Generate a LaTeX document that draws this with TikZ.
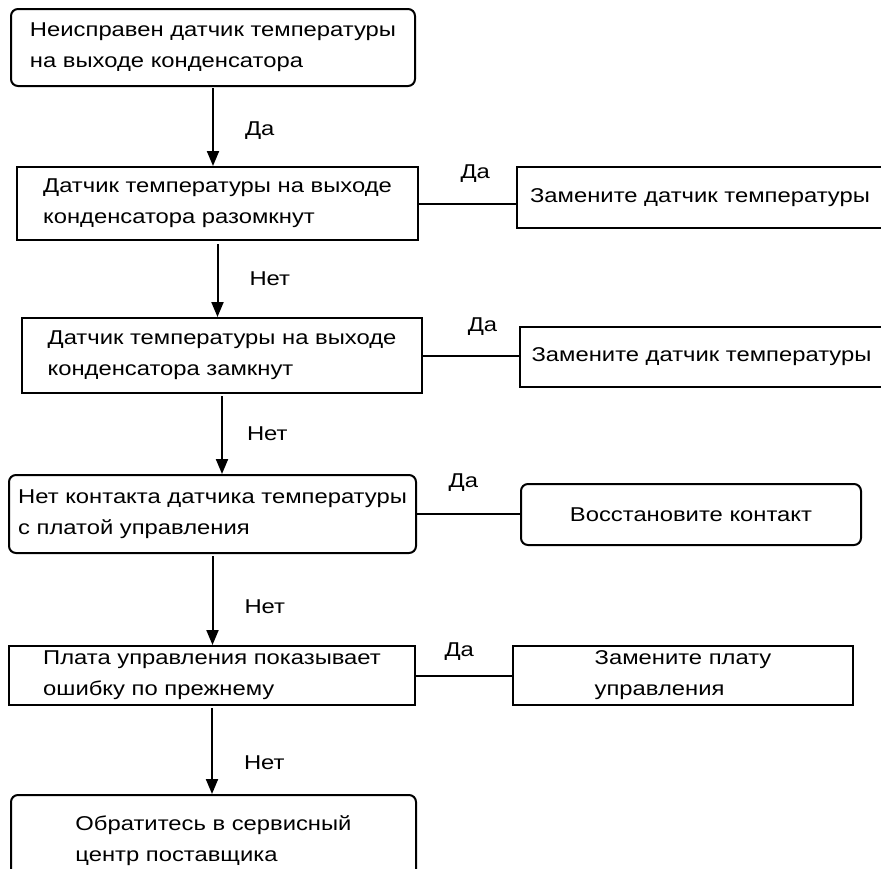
\documentclass[tikz,border=0pt]{standalone}
\usepackage{fontspec}
\setmainfont{Liberation Sans}[FakeStretch=1.19]
\usetikzlibrary{arrows.meta,positioning,calc}

\begin{document}
\begin{tikzpicture}[
  x=1pt, y=-1pt,
  font=\fontsize{20}{31}\selectfont,
  line width=2pt,
  chk/.style ={draw,align=left,inner sep=0pt},
  rchk/.style={chk,rounded corners=7pt},
  act/.style ={draw,align=left,inner sep=0pt},
  ract/.style={act,rounded corners=7pt},
  lbl/.style ={inner sep=0pt},
  >={Triangle[length=15pt,width=12pt]}]

\clip (0,0) rectangle (881,868);

% ---------- left column : checks ----------
\node[rchk, minimum width=404pt, minimum height=77pt] (b1) at (213,47.5)
  {Неисправен датчик температуры\\на выходе конденсатора};
\node[chk, minimum width=401pt, minimum height=73pt] (b2) at (217.5,203.5)
  {Датчик температуры на выходе\\конденсатора разомкнут};
\node[chk, minimum width=400pt, minimum height=75pt] (b3) at (222,355.5)
  {Датчик температуры на выходе\\конденсатора замкнут};
\node[rchk, minimum width=407pt, minimum height=78pt] (b4) at (212.5,514)
  {Нет контакта датчика температуры\\с платой управления};
\node[chk, minimum width=406pt, minimum height=59pt] (b5) at (212,675.5)
  {Плата управления показывает\\ошибку по прежнему};
\node[rchk, minimum width=405pt, minimum height=92pt] (b6) at (213.5,841)
  {Обратитесь в сервисный\\центр поставщика};

% ---------- right column : actions ----------
\node[act, minimum width=366pt, minimum height=61pt] (r1) at (700,197.5)
  {Замените датчик температуры};
\node[act, minimum width=363pt, minimum height=60pt] (r2) at (701.5,357)
  {Замените датчик температуры};
\node[ract, minimum width=340pt, minimum height=61pt] (r3) at (691,514.5)
  {Восстановите контакт};
\node[act, minimum width=340pt, minimum height=59pt] (r4) at (683,675.5)
  {Замените плату\\управления};

% ---------- "No" branch ----------
\draw[->,shorten <=1pt] (b1.south) -- node[lbl,pos=0.55,right=31pt] {Да}  (b1.south |- b2.north);
\draw[->,shorten <=3pt] (b2.south) -- node[lbl,pos=0.5,right=31pt]  {Нет} (b2.south |- b3.north);
\draw[->,shorten <=2pt] (b3.south) -- node[lbl,pos=0.5,right=24pt]  {Нет} (b3.south |- b4.north);
\draw[->,shorten <=2pt] (b4.south) -- node[lbl,pos=0.58,right=31pt] {Нет} (b4.south |- b5.north);
\draw[->,shorten <=2pt] (b5.south) -- node[lbl,pos=0.64,right=31pt] {Нет} (b5.south |- b6.north);

% ---------- "Yes" branch ----------
\draw (b2.east) -- node[lbl,pos=0.58,above=20pt] {Да} (b2.east -| r1.west);
\draw (b3.east) -- node[lbl,pos=0.62,above=19pt] {Да} (b3.east -| r2.west);
\draw (b4.east) -- node[lbl,pos=0.45,above=22pt] {Да} (b4.east -| r3.west);
\draw (b5.east) -- node[lbl,pos=0.45,above=14pt] {Да} (b5.east -| r4.west);

\end{tikzpicture}
\end{document}
